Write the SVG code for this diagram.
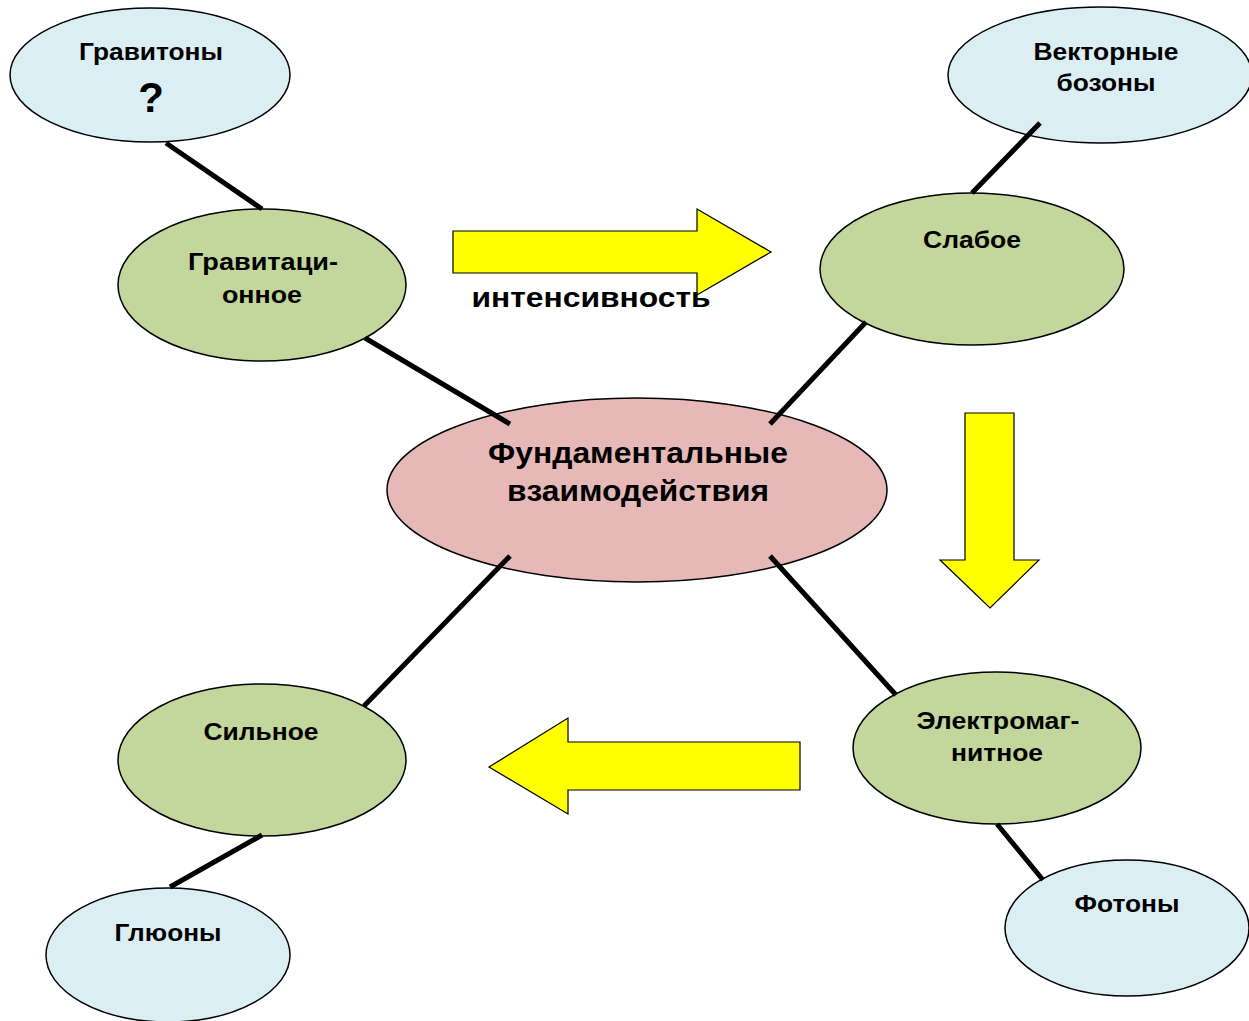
<svg xmlns="http://www.w3.org/2000/svg" width="1249" height="1021" viewBox="0 0 1249 1021">
<style>
.n{stroke:#000;stroke-width:1.5}
.b{fill:#DAEEF3}
.g{fill:#C3D69B}
.p{fill:#E6B9B8}
.t{font-family:"Liberation Sans",Arial,sans-serif;font-weight:bold;fill:#000;text-anchor:middle;font-size:24px}
.c line{stroke:#000;stroke-width:5}
.a{fill:#FFFF00;stroke:#000;stroke-width:1.2}
</style>
<rect width="1249" height="1021" fill="#fff"/>
<g id="arrows">
<polygon class="a" points="453,231 697,231 697,209 771,252 697,295 697,273 453,273"/>
<polygon class="a" points="965,413 1014,413 1014,560 1039,560 990,608 940,560 965,560"/>
<polygon class="a" points="800,742 568,742 568,718 489,767 568,814 568,790 800,790"/>
</g>
<g id="gravitons">
<ellipse class="n b" cx="150" cy="75" rx="140" ry="67"/>
<text class="t" x="151" y="60" textLength="144" lengthAdjust="spacingAndGlyphs">Гравитоны</text>
<text class="t" x="151" y="112" style="font-size:42px">?</text>
</g>
<g id="gravitational">
<ellipse class="n g" cx="262" cy="285" rx="144" ry="76"/>
<text class="t" x="263" y="270" textLength="150" lengthAdjust="spacingAndGlyphs">Гравитаци-</text>
<text class="t" x="262" y="303" textLength="80" lengthAdjust="spacingAndGlyphs">онное</text>
</g>
<g id="vector-bosons">
<ellipse class="n b" cx="1100" cy="75" rx="152" ry="68"/>
<text class="t" x="1106" y="60" textLength="145" lengthAdjust="spacingAndGlyphs">Векторные</text>
<text class="t" x="1106" y="91" textLength="99" lengthAdjust="spacingAndGlyphs">бозоны</text>
</g>
<g id="weak">
<ellipse class="n g" cx="972" cy="269" rx="152" ry="76"/>
<text class="t" x="972" y="248" textLength="98" lengthAdjust="spacingAndGlyphs">Слабое</text>
</g>
<g id="fundamental">
<ellipse class="n p" cx="637" cy="490" rx="250" ry="92"/>
<text class="t" x="638" y="463" style="font-size:29px" textLength="300" lengthAdjust="spacingAndGlyphs">Фундаментальные</text>
<text class="t" x="638" y="501" style="font-size:29px" textLength="262" lengthAdjust="spacingAndGlyphs">взаимодействия</text>
</g>
<g id="electromagnetic">
<ellipse class="n g" cx="997" cy="748" rx="144" ry="76"/>
<text class="t" x="998" y="729" textLength="163" lengthAdjust="spacingAndGlyphs">Электромаг-</text>
<text class="t" x="997" y="761" textLength="92" lengthAdjust="spacingAndGlyphs">нитное</text>
</g>
<g id="photons">
<ellipse class="n b" cx="1127" cy="928" rx="122" ry="68"/>
<text class="t" x="1127" y="912" textLength="105" lengthAdjust="spacingAndGlyphs">Фотоны</text>
</g>
<g id="strong">
<ellipse class="n g" cx="262" cy="760" rx="144" ry="76"/>
<text class="t" x="261" y="740" textLength="115" lengthAdjust="spacingAndGlyphs">Сильное</text>
</g>
<g id="gluons">
<ellipse class="n b" cx="168" cy="955" rx="122" ry="67"/>
<text class="t" x="168" y="941" textLength="107" lengthAdjust="spacingAndGlyphs">Глюоны</text>
</g>
<g class="c" id="connectors">
<line x1="166" y1="143" x2="262" y2="209"/>
<line x1="365" y1="338" x2="510" y2="424"/>
<line x1="866" y1="322" x2="770" y2="424"/>
<line x1="1040" y1="123" x2="972" y2="193"/>
<line x1="510" y1="556" x2="364" y2="706"/>
<line x1="770" y1="556" x2="896" y2="695"/>
<line x1="997" y1="824" x2="1043" y2="880"/>
<line x1="262" y1="835" x2="170" y2="887"/>
</g>
<g id="intensity-label">
<text class="t" x="591" y="307" style="font-size:27px" textLength="239" lengthAdjust="spacingAndGlyphs">интенсивность</text>
</g>
</svg>
